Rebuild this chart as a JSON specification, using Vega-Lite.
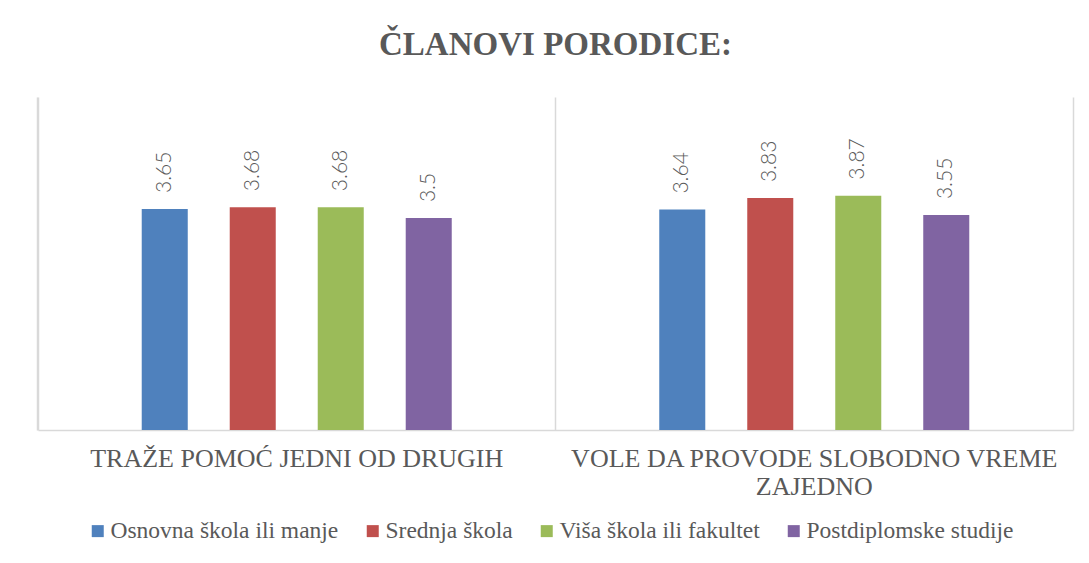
{
  "$schema": "https://vega.github.io/schema/vega-lite/v6.json",
  "width": 1035,
  "height": 333,
  "autosize": {"type": "none"},
  "padding": {"left": 38, "top": 97, "right": 16, "bottom": 133},
  "background": "white",
  "title": {
    "text": "ČLANOVI PORODICE:",
    "font": "Liberation Serif",
    "fontSize": 33,
    "fontWeight": "bold",
    "color": "#595959",
    "anchor": "middle",
    "baseline": "alphabetic",
    "offset": 9
  },
  "data": {
    "values": [
      {"kategorija": "TRAŽE POMOĆ JEDNI OD DRUGIH", "obrazovanje": "Osnovna škola ili manje", "vrednost": 3.65},
      {"kategorija": "TRAŽE POMOĆ JEDNI OD DRUGIH", "obrazovanje": "Srednja škola", "vrednost": 3.68},
      {"kategorija": "TRAŽE POMOĆ JEDNI OD DRUGIH", "obrazovanje": "Viša škola ili fakultet", "vrednost": 3.68},
      {"kategorija": "TRAŽE POMOĆ JEDNI OD DRUGIH", "obrazovanje": "Postdiplomske studije", "vrednost": 3.5},
      {"kategorija": "VOLE DA PROVODE SLOBODNO VREME ZAJEDNO", "obrazovanje": "Osnovna škola ili manje", "vrednost": 3.64},
      {"kategorija": "VOLE DA PROVODE SLOBODNO VREME ZAJEDNO", "obrazovanje": "Srednja škola", "vrednost": 3.83},
      {"kategorija": "VOLE DA PROVODE SLOBODNO VREME ZAJEDNO", "obrazovanje": "Viša škola ili fakultet", "vrednost": 3.87},
      {"kategorija": "VOLE DA PROVODE SLOBODNO VREME ZAJEDNO", "obrazovanje": "Postdiplomske studije", "vrednost": 3.55}
    ]
  },
  "encoding": {
    "x": {
      "field": "kategorija",
      "type": "nominal",
      "sort": null,
      "scale": {"paddingInner": 0.0609, "paddingOuter": 0.0304},
      "axis": {
        "title": null,
        "labelAngle": 0,
        "labelFont": "Liberation Serif",
        "labelFontSize": 26,
        "labelColor": "#595959",
        "labelPadding": 15,
        "labelLineHeight": 28,
        "labelLimit": 0,
        "labelBaseline": "top",
        "labelExpr": "datum.value == 'VOLE DA PROVODE SLOBODNO VREME ZAJEDNO' ? ['VOLE DA PROVODE SLOBODNO VREME', 'ZAJEDNO'] : datum.value",
        "ticks": false,
        "domain": true,
        "domainColor": "#d9d9d9",
        "domainWidth": 1.5,
        "grid": true,
        "gridColor": "#d9d9d9",
        "gridWidth": 1.5,
        "bandPosition": -0.0329
      }
    },
    "xOffset": {
      "field": "obrazovanje",
      "type": "nominal",
      "sort": ["Osnovna škola ili manje", "Srednja škola", "Viša škola ili fakultet", "Postdiplomske studije"],
      "scale": {"paddingInner": 0.477, "paddingOuter": 1}
    }
  },
  "layer": [
    {
      "mark": {"type": "bar"},
      "encoding": {
        "y": {
          "field": "vrednost",
          "type": "quantitative",
          "scale": {"domain": [0, 5.5], "nice": false, "zero": true},
          "axis": {"orient": "left", "title": null, "labels": false, "ticks": false, "grid": false, "domain": true, "domainColor": "#d9d9d9", "domainWidth": 1.5}
        },
        "color": {
          "field": "obrazovanje",
          "type": "nominal",
          "sort": ["Osnovna škola ili manje", "Srednja škola", "Viša škola ili fakultet", "Postdiplomske studije"],
          "scale": {
            "domain": ["Osnovna škola ili manje", "Srednja škola", "Viša škola ili fakultet", "Postdiplomske studije"],
            "range": ["#4F81BD", "#C0504D", "#9BBB59", "#8064A2"]
          },
          "legend": {
            "title": null,
            "orient": "none",
            "legendX": 48,
            "legendY": 422,
            "direction": "horizontal",
            "symbolType": "square",
            "symbolSize": 144,
            "symbolStrokeWidth": 0,
            "labelFont": "Liberation Serif",
            "labelFontSize": 23.5,
            "labelColor": "#595959",
            "labelOffset": 1,
            "labelLimit": 0,
            "columnPadding": 22,
            "padding": 0
          }
        }
      }
    },
    {
      "mark": {
        "type": "text",
        "angle": -90,
        "align": "left",
        "baseline": "middle",
        "dx": 16,
        "font": "Lato",
        "fontWeight": 300,
        "fontSize": 21,
        "color": "#595959"
      },
      "encoding": {
        "y": {
          "field": "vrednost",
          "type": "quantitative",
          "scale": {"domain": [0, 5.5], "nice": false, "zero": true},
          "axis": {"orient": "right", "title": null, "labels": false, "ticks": false, "grid": false, "domain": true, "domainColor": "#d9d9d9", "domainWidth": 1.5}
        },
        "text": {"field": "vrednost", "type": "quantitative"}
      }
    }
  ],
  "resolve": {"axis": {"y": "independent"}},
  "config": {
    "view": {"stroke": null}
  }
}
